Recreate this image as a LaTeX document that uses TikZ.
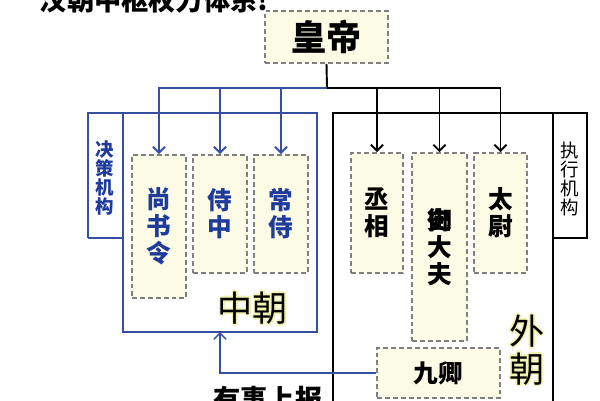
\documentclass[tikz,border=0pt]{standalone}
\usepackage{fontspec}
\setmainfont{Noto Sans CJK SC}
\usetikzlibrary{calc}
\usetikzlibrary{arrows.meta}
\definecolor{boxfill}{HTML}{FCFBE6}
\definecolor{dashgray}{HTML}{7F7F7F}
\definecolor{courtblue}{HTML}{3550A0}
\definecolor{textblue}{HTML}{1F3C9C}
\definecolor{glow}{HTML}{F2F1B4}
\tikzset{
  office/.style={draw=dashgray, line width=0.9pt, dash pattern=on 2.8pt off 1.7pt,
    fill=boxfill, inner sep=0pt, align=center,
    font=\bfseries\fontsize{14}{15.4}\selectfont},
  tabtext/.style={align=center, inner sep=0pt, font=\bfseries\fontsize{10.5}{10.8}\selectfont},
  court/.style={align=center, inner sep=0pt, font=\fontsize{20}{21.5}\selectfont},
  barb/.style={-{Straight Barb[length=3.5pt,width=7pt]}},
}
\begin{document}
\begin{tikzpicture}[x=0.02cm, y=-0.02cm, line width=1.1pt]
\useasboundingbox (0,0) rectangle (600,400);
\fill[white] (0,0) rectangle (600,400);
\coordinate (hub) at (327,88);
\coordinate (zhong) at (253,308);
\coordinate (wai) at (527,350);
\coordinate (report) at (220,332);
% offices
\node[office, minimum width=2.46cm, minimum height=1.04cm, font=\bfseries\fontsize{20}{20}\selectfont] (huangdi) at (326.5,37) {皇帝};
\node[office, minimum width=1.08cm, minimum height=2.86cm, text=textblue] (shangshu) at (159,226.5) {尚\\书\\令};
\node[office, minimum width=1.08cm, minimum height=2.36cm, text=textblue] (shizhong) at (220,214) {侍\\中};
\node[office, minimum width=1.08cm, minimum height=2.36cm, text=textblue] (changshi) at (281,214) {常\\侍};
\node[office, minimum width=1.04cm, minimum height=2.4cm] (chengxiang) at (377,213) {丞\\相};
\node[office, minimum width=1.1cm, minimum height=3.76cm] (yushi) at (439.5,247) {\rlap{御}史\\大\\夫};
\node[office, minimum width=1.06cm, minimum height=2.4cm] (taiwei) at (500.5,213) {太\\尉};
\node[office, minimum width=2.46cm, minimum height=1.0cm] (jiuqing) at (438.5,373) {九卿};
% frames
\draw[courtblue] (88,238) -- (88,113) -- (317,113) -- (317,332) -- (123,332) -- (123,113);
\draw[courtblue] (88,238) -- (123,238);
\draw[black] (333,410) -- (333,113) -- (587,113) -- (587,238) -- (553,238);
\draw[black] (553,113) -- (553,410);
\node[tabtext, text=textblue] (jue) at (105,178) {决\\策\\机\\构};
\node[tabtext, font=\fontsize{10.5}{10.8}\selectfont] (zhi) at (570,179) {执\\行\\机\\构};
% links
\draw[black] (huangdi.south) -- (hub);
\draw[courtblue, barb] (hub) -| (shangshu.north);
\draw[courtblue, barb] (hub) -| (shizhong.north);
\draw[courtblue, barb] (hub) -| (changshi.north);
\draw[black, barb] (hub) -| (chengxiang.north);
\draw[black, barb] (hub) -| (yushi.north);
\draw[black, barb] (hub) -| (taiwei.north);
\draw[courtblue, line width=0.9pt, barb] (jiuqing.west) -| (report);
% court names
\foreach \a in {0,45,...,315} {
  \node[court, text=glow] at ([shift={(\a:1pt)}]zhong) {中朝};
  \node[court, text=glow] at ([shift={(\a:1pt)}]wai) {外\\朝};
}
\node[court] (zhongchao) at (zhong) {中朝};
\node[court] (waichao) at (wai) {外\\朝};
\node[font=\bfseries\fontsize{15.5}{15.5}\selectfont] (shangbao) at (268,399) {有事上报};
\node[font=\bfseries\fontsize{15.5}{15.5}\selectfont, anchor=west] (title) at (33,0) {汉朝中枢权力体系!};
\end{tikzpicture}
\end{document}
